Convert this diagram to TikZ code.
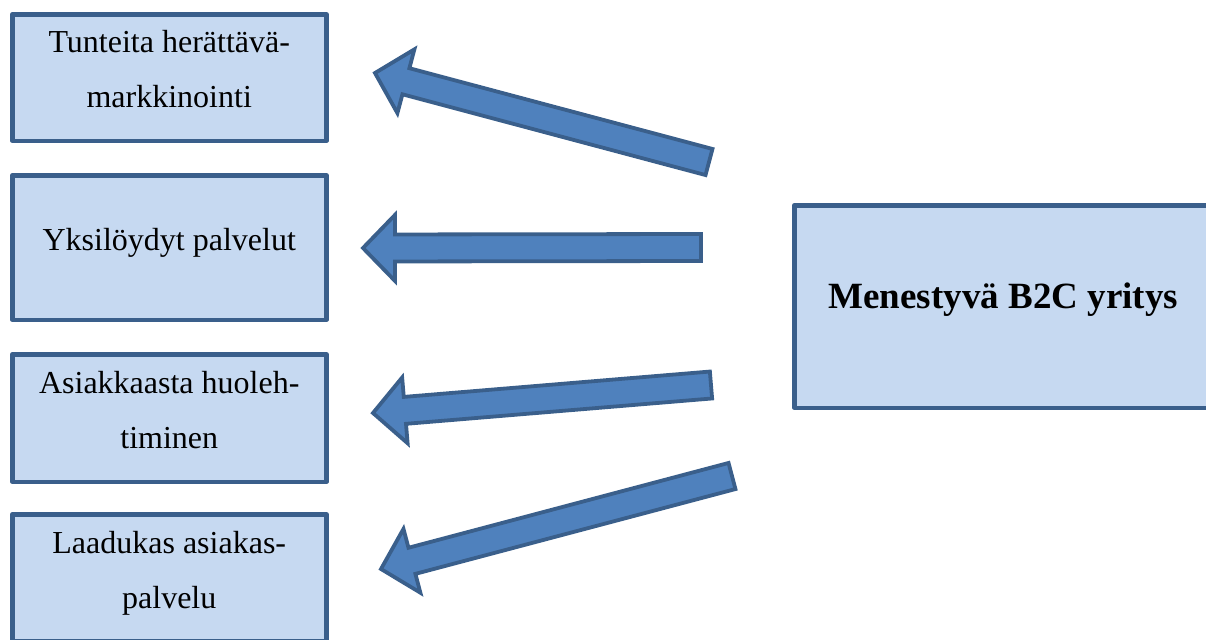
\documentclass[tikz,border=0pt]{standalone}
\usepackage{fontspec}
\setmainfont{Liberation Serif}
\usepackage{tikz}
\usetikzlibrary{calc, positioning}
\usepackage{xcolor}
\definecolor{boxfill}{HTML}{C6D9F1}
\definecolor{boxline}{HTML}{3A5F8B}
\definecolor{arrfill}{HTML}{4F81BD}

% block arrow from tail #1 to tip #2
\newcommand{\blockarrow}[2]{%
\coordinate (h) at ($(#2)!16pt!(#1)$);
\filldraw[blockarr] ($(#1)!6.75pt!90:(#2)$) -- ($(h)!6.75pt!90:(#2)$) -- ($(h)!16.5pt!90:(#2)$)
  -- (#2) -- ($(h)!16.5pt!-90:(#2)$) -- ($(h)!6.75pt!-90:(#2)$) -- ($(#1)!6.75pt!-90:(#2)$) -- cycle;
}

\begin{document}
\begin{tikzpicture}[x=0.5pt, y=-0.5pt,
         box/.style={draw=boxline, fill=boxfill, line width=2.25pt, line join=round,
                     minimum width=157pt, align=center, inner sep=2pt,
                     font=\fontsize{16}{27.5}\selectfont},
         blockarr/.style={draw=boxline, fill=arrfill, line width=1.9pt, line join=miter}]
\useasboundingbox (0,0) rectangle (1206,639);
%
\node[box, minimum height=63.25pt, anchor=north west] (tunteet) at (10,12) {Tunteita herättävä-\\markkinointi\strut};
\node[box, minimum height=72.25pt, text depth=8.5pt, below=15pt of tunteet] (yksil) {Yksilöydyt palvelut};
\node[box, minimum height=63.75pt, below=15pt of yksil] (huolehti) {Asiakkaasta huoleh-\\timinen\strut};
\node[box, minimum height=63.5pt, below=14pt of huolehti] (laatu) {Laadukas asiakas-\\palvelu\strut};
%
\node[box, minimum width=209pt, minimum height=101.25pt, text depth=11pt, anchor=north west,
      font=\fontsize{18.5}{22}\selectfont\bfseries] (yritys) at (792,203) {Menestyvä B2C yritys};
%
\coordinate (t1) at (709,162);  \coordinate (p1) at (375,73);
\coordinate (t2) at (701,247.5);\coordinate (p2) at (363,248);
\coordinate (t3) at (711,385);  \coordinate (p3) at (373,413);
\coordinate (t4) at (732,476);  \coordinate (p4) at (381,569);

\blockarrow{t1}{p1}
\blockarrow{t2}{p2}
\blockarrow{t3}{p3}
\blockarrow{t4}{p4}
%
\end{tikzpicture}
\end{document}
